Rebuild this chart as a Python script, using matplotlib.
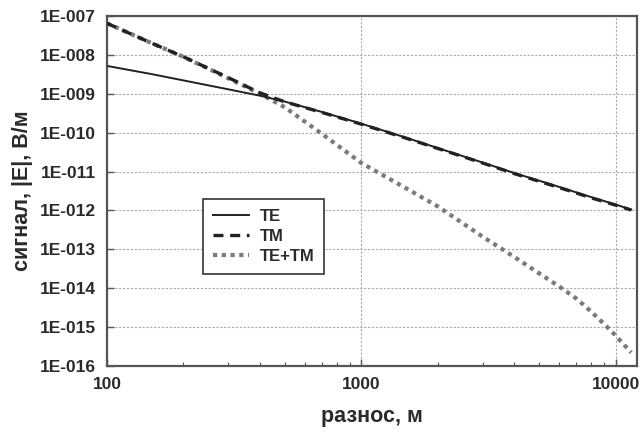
import numpy as np
import matplotlib
matplotlib.use("Agg")
import matplotlib.pyplot as plt
from matplotlib.ticker import FuncFormatter, LogLocator, NullFormatter

plt.rcParams["font.family"] = ["Liberation Sans", "DejaVu Sans"]

# Values (offset in m, |E| in V/m)
offset = [100, 150, 200, 300, 400, 500, 700, 1000, 1500, 2000, 3000,
          4000, 5000, 6000, 7000, 8000, 9000, 10000, 11500]
te = [5.2e-9, 3.2e-9, 2.2e-9, 1.3e-9, 8.9e-10, 6.3e-10, 3.4e-10, 1.7e-10,
      7.4e-11, 4.0e-11, 1.7e-11, 9.1e-12, 5.8e-12, 4.0e-12, 2.9e-12,
      2.2e-12, 1.74e-12, 1.41e-12, 1.05e-12]
tm = [6.5e-8, 2.0e-8, 8.9e-9, 2.6e-9, 1.05e-9, 6.2e-10, 3.3e-10, 1.65e-10,
      7.2e-11, 3.9e-11, 1.65e-11, 8.8e-12, 5.6e-12, 3.85e-12, 2.8e-12,
      2.1e-12, 1.68e-12, 1.36e-12, 1.02e-12]
te_tm = [6.5e-8, 2.0e-8, 8.9e-9, 2.5e-9, 1.0e-9, 4.5e-10, 9.3e-11, 1.66e-11,
         3.7e-12, 1.26e-12, 2.1e-13, 6.3e-14, 2.4e-14, 1.1e-14, 5.4e-15,
         2.5e-15, 1.2e-15, 6.0e-16, 2.2e-16]

fig = plt.figure(figsize=(6.4, 4.32), dpi=100)
ax = fig.add_axes([0.167, 0.153, 0.828, 0.81])

ax.plot(offset, te_tm, color="#7a7a7a", linestyle=(0, (1, 1.1)), linewidth=3, label="TE+TM", zorder=3)
ax.plot(offset, tm, color="#222222", linestyle=(0, (3, 2)), linewidth=2.4, label="TM", zorder=4)
ax.plot(offset, te, color="#222222", linestyle="-", linewidth=1.4, label="TE", zorder=5)

ax.set_xscale("log")
ax.set_yscale("log")
ax.set_xlim(100, 12100)
ax.set_ylim(1e-16, 1e-7)

ax.xaxis.set_major_locator(LogLocator(base=10, numticks=10))
ax.yaxis.set_major_locator(LogLocator(base=10, numticks=20))
ax.xaxis.set_major_formatter(FuncFormatter(lambda v, p: "%d" % round(v)))
ax.yaxis.set_major_formatter(FuncFormatter(lambda v, p: "1E-%03d" % round(-np.log10(v))))
ax.xaxis.set_minor_formatter(NullFormatter())
ax.yaxis.set_minor_formatter(NullFormatter())

ax.tick_params(which="both", direction="in", top=False, right=False, colors="#555555",
               labelcolor="#2a2a2a")
ax.tick_params(which="major", length=5, width=1, labelsize=12.5, pad=8)
ax.tick_params(which="minor", length=3, width=0.8)
for lab in ax.get_xticklabels() + ax.get_yticklabels():
    lab.set_fontweight("bold")

ax.grid(True, which="major", color="#aaaaaa", linestyle=(0, (2, 1.5)), linewidth=0.8)
for s in ax.spines.values():
    s.set_color("#555555")
    s.set_linewidth(1.6)

ax.set_xlabel("разнос, м", fontsize=15.5, fontweight="bold", color="#2a2a2a", labelpad=10)
ax.set_ylabel("сигнал, |E|, В/м", fontsize=15.5, fontweight="bold", color="#2a2a2a", labelpad=5)

handles, labels = ax.get_legend_handles_labels()
order = [2, 1, 0]
leg = ax.legend([handles[i] for i in order], [labels[i] for i in order],
                loc="upper left", bbox_to_anchor=(0.181, 0.477), borderaxespad=0,
                fancybox=False, framealpha=1, edgecolor="#333333", handlelength=2.2,
                prop={"weight": "bold", "size": 12}, borderpad=0.6,
                labelspacing=0.3, handletextpad=0.6)
leg.get_frame().set_linewidth(1.2)
for t in leg.get_texts():
    t.set_color("#2a2a2a")

fig.savefig("out.png", dpi=100)
